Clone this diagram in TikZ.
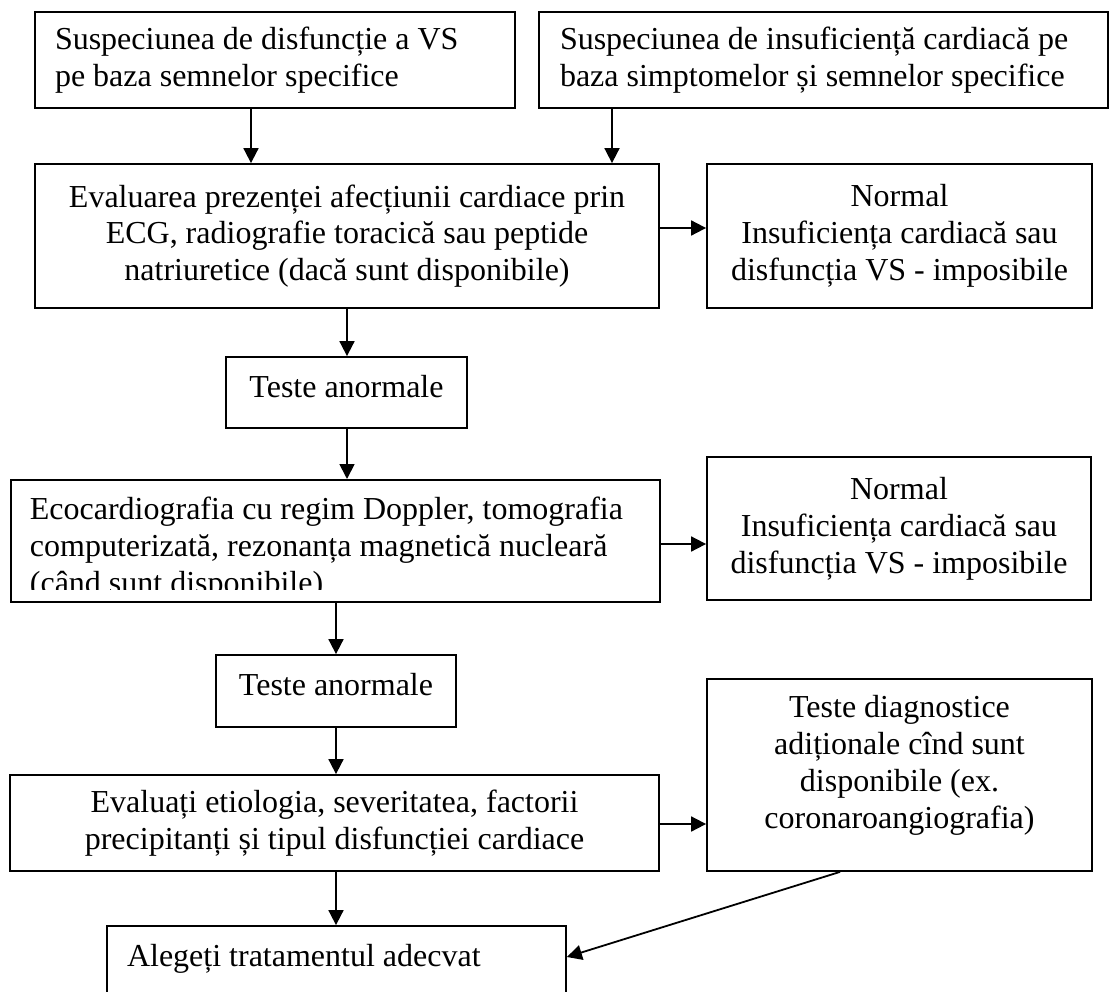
\documentclass[tikz,border=0pt]{standalone}
\usepackage{fontspec}
\setmainfont{Liberation Serif}
\usetikzlibrary{arrows.meta}

\tikzset{
  box/.style={draw, line width=1.8pt, inner sep=0pt, align=center,
    font=\fontsize{32}{36.8}\selectfont},
  leftbox/.style={box, align=flush left, inner xsep=20pt},
  single/.style={text height=21pt, text depth=12pt},
  arr/.style={-{Triangle[length=15pt,width=15pt]}, line width=1.8pt}
}

\begin{document}
\begin{tikzpicture}[x=1pt,y=-1pt]
			\useasboundingbox (0,0) rectangle (1110,992);

			\node[leftbox, minimum width=480pt, minimum height=96pt, text width=440pt] (suspVS) at (275,60) {Suspeciunea de disfuncție a VS\\pe baza semnelor specifice};
			\node[leftbox, minimum width=569pt, minimum height=96pt, text width=527pt, inner xsep=21pt] (suspIC) at (823.5,60) {Suspeciunea de insuficiență cardiacă pe\\baza simptomelor și semnelor specifice};
			\node[box, minimum width=624pt, minimum height=144pt] (evalECG) at (347,236) {Evaluarea prezenței afecțiunii cardiace prin\\ECG, radiografie toracică sau peptide\\natriuretice (dacă sunt disponibile)};
			\node[box, minimum width=385pt, minimum height=144pt] (normal1) at (899.5,236) {Normal\\Insuficiența cardiacă sau\\disfuncția VS - imposibile};
			\node[box, single, minimum width=241pt, minimum height=71pt] (anorm1) at (346.5,392.5) {Teste anormale};

			% frame first, then the text, whose last line is cut by the frame
			\node[box, anchor=north west, minimum width=649pt, minimum height=122pt] (eco) at (10,479) {};
			\begin{scope}
			\clip (10,479) rectangle (659,589);
			\node[leftbox, draw=none, anchor=north west, minimum width=649pt, minimum height=122pt, text width=611pt, inner xsep=19pt] (ecotext) at (10,487) {Ecocardiografia cu regim Doppler, tomografia\\computerizată, rezonanța magnetică nucleară\\(când sunt disponibile)};
			\end{scope}

			\node[box, minimum width=384pt, minimum height=143pt] (normal2) at (899,528.5) {Normal\\Insuficiența cardiacă sau\\disfuncția VS - imposibile};
			\node[box, single, minimum width=240pt, minimum height=72pt] (anorm2) at (336,691) {Teste anormale};
			\node[box, minimum width=649pt, minimum height=96pt] (etiol) at (334.5,823) {Evaluați etiologia, severitatea, factorii\\precipitanți și tipul disfuncției cardiace};
			\node[box, minimum width=385pt, minimum height=192pt, text height=131pt, text depth=25pt] (teste) at (899.5,775) {Teste diagnostice\\adiționale cînd sunt\\disponibile (ex.\\coronaroangiografia)};
			\node[leftbox, minimum width=459pt, minimum height=84pt, text width=419pt, text height=21pt, text depth=25pt] (treat) at (336.5,968) {Alegeți tratamentul adecvat};

			\foreach \from/\to/\x in {suspVS/evalECG/251,suspIC/evalECG/612,evalECG/anorm1/347,anorm1/eco/347,eco/anorm2/336,anorm2/etiol/336,etiol/treat/336}
			\draw[arr] (\from.south -| \x,0) -- (\to.north -| \x,0);

			\foreach \from/\to/\y in {evalECG/normal1/228,eco/normal2/544,etiol/teste/824}
			\draw[arr] (\from.east |- 0,\y) -- (\to.west |- 0,\y);

			\draw[arr] (teste.south -| 840,0) -- (treat.east |- 0,957);
			\end{tikzpicture}
\end{document}
